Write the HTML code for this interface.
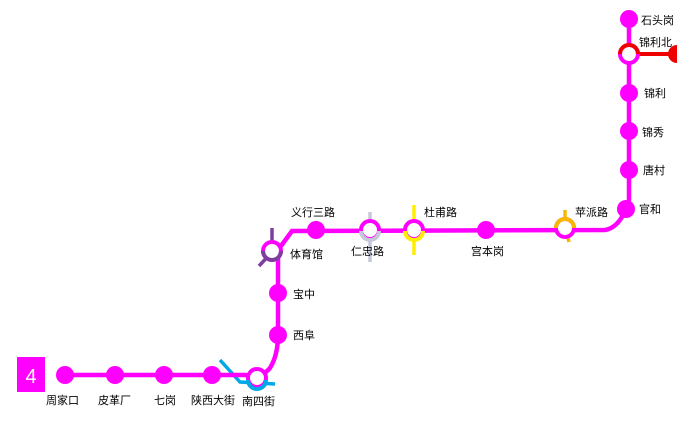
<!DOCTYPE html>
<html><head><meta charset="utf-8"><style>
body{margin:0;background:#fff;width:677px;height:439px;overflow:hidden}
text{font-family:"Liberation Sans","Noto Sans CJK SC",sans-serif;font-size:11px;fill:#000}
</style></head><body>
<svg width="677" height="439" xmlns="http://www.w3.org/2000/svg">
<path d="M220,360 L240,382 L275,384" stroke="#00a8e8" stroke-width="3.5" fill="none"/>
<path d="M272,228 L272,252 L259,266" stroke="#7e3ea0" stroke-width="3.5" fill="none"/>
<line x1="370" y1="212" x2="370" y2="262" stroke="#c4c8d8" stroke-width="3.5"/>
<line x1="414" y1="205" x2="414" y2="255" stroke="#ffee00" stroke-width="3.5"/>
<path d="M565,210 L565,228 L569,242" stroke="#f8b800" stroke-width="3.5" fill="none"/>
<line x1="629" y1="54" x2="677" y2="54" stroke="#ee0000" stroke-width="4"/>
<circle cx="677" cy="54" r="9" fill="#ee0000"/>
<path d="M65,375 L245,375 Q262,378 270,368 Q278,355 278,335 L278,250 L292,231 L605,230 Q618,228 626,209 L629,200 L629,19" stroke="#ff00ff" stroke-width="4.5" fill="none"/>
<g fill="#ff00ff">
<circle cx="65" cy="375" r="9"/><circle cx="115" cy="375" r="9"/><circle cx="164" cy="375" r="9"/><circle cx="212" cy="375" r="9"/>
<circle cx="278" cy="335" r="9"/><circle cx="278" cy="293" r="9"/><circle cx="316" cy="230" r="9"/><circle cx="486" cy="230" r="9"/>
<circle cx="626" cy="209" r="9"/><circle cx="629" cy="170" r="9"/><circle cx="629" cy="131" r="9"/><circle cx="629" cy="93" r="9"/><circle cx="629" cy="19" r="9"/>
</g>
<g fill="#fff" stroke-width="4">
<circle cx="257" cy="378" r="9" stroke="#ff00ff"/>
<circle cx="272" cy="251" r="9" stroke="#ff00ff"/>
<circle cx="370" cy="230" r="9" stroke="#ff00ff"/>
<circle cx="414" cy="230" r="9" stroke="#ff00ff"/>
<circle cx="565" cy="228" r="9" stroke="#ff00ff"/>
<circle cx="629" cy="54" r="9" stroke="#ff00ff"/>
</g>
<path d="M248,380 A9,9 0 0 0 266,380" stroke="#00a8e8" stroke-width="4" fill="none"/>
<path d="M263,251 A9,9 0 0 0 281,251" stroke="#7e3ea0" stroke-width="4" fill="none"/>
<path d="M361,231 A9,9 0 0 0 379,231" stroke="#c4c8d8" stroke-width="4" fill="none"/>
<path d="M405,231 A9,9 0 0 0 423,231" stroke="#ffee00" stroke-width="4" fill="none"/>
<path d="M556,228 A9,9 0 0 1 574,228" stroke="#f8b800" stroke-width="4" fill="none"/>
<path d="M620,54 A9,9 0 0 1 638,54" stroke="#ee0000" stroke-width="4" fill="none"/>
<rect x="17" y="357" width="28" height="35" fill="#ff00ff"/>
<text x="31" y="383" text-anchor="middle" style="font-size:20px;fill:#fff">4</text>
<text x="46" y="404">周家口</text>
<text x="98" y="404">皮革厂</text>
<text x="154" y="404">七岗</text>
<text x="191" y="404">陕西大街</text>
<text x="242" y="405">南四街</text>
<text x="293" y="339">西阜</text>
<text x="293" y="298">宝中</text>
<text x="290" y="258">体育馆</text>
<text x="291" y="216">义行三路</text>
<text x="351" y="255">仁忠路</text>
<text x="424" y="216">杜甫路</text>
<text x="471" y="255">宫本岗</text>
<text x="575" y="216">苹派路</text>
<text x="639" y="213">官和</text>
<text x="643" y="174">唐村</text>
<text x="642" y="136">锦秀</text>
<text x="644" y="97">锦利</text>
<text x="639" y="46">锦利北</text>
<text x="641" y="24">石头岗</text>
</svg>
</body></html>
